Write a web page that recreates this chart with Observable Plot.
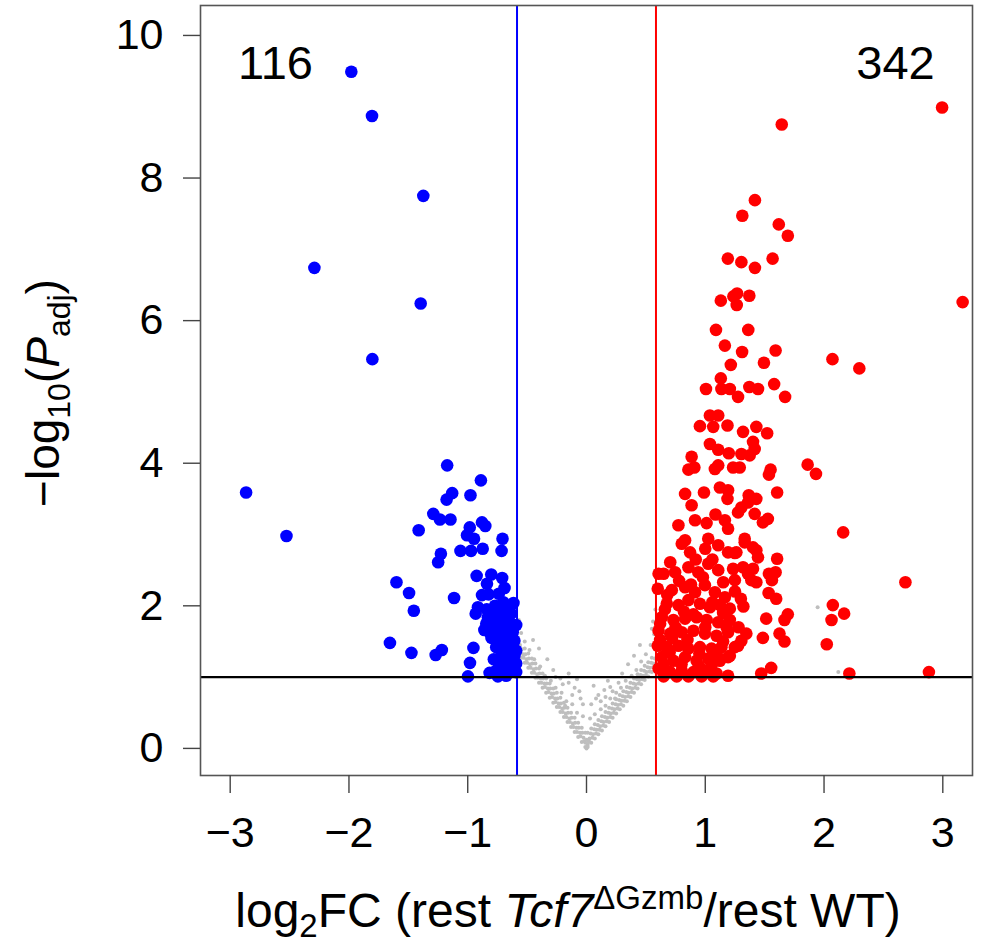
<!DOCTYPE html>
<html><head><meta charset="utf-8">
<script src="https://cdn.jsdelivr.net/npm/d3@7"></script>
<script src="https://cdn.jsdelivr.net/npm/@observablehq/plot@0.6"></script>
<style>html,body{margin:0;padding:0;background:#fff}</style>
</head><body><div id="chart"></div>
<script>
const xTicks = [-3, -2, -1, 0, 1, 2, 3];
const xTickLabels = ["−3", "−2", "−1", "0", "1", "2", "3"];
const yTicks = [0, 2, 4, 6, 8, 10];
const yTickLabels = ["0", "2", "4", "6", "8", "10"];
const fcCutoff = 0.585;
const padjCutoff = 1;
const countDown = "116";
const countUp = "342";

const bluePoints = [
[-1.98,9.49],[-1.806,8.87],[-1.374,7.75],[-2.291,6.74],[-1.396,6.24],[-1.803,5.46],[-2.866,3.59],[-2.526,2.98],
[-1.173,3.97],[-0.889,3.76],[-1.131,3.58],[-1.178,3.49],[-0.977,3.55],[-1.290,3.29],[-1.234,3.21],[-1.145,3.21],
[-1.413,3.06],[-0.983,3.10],[-0.880,3.17],[-0.852,3.12],[-1.006,2.99],[-0.947,2.94],[-0.707,2.94],[-1.061,2.77],
[-0.972,2.77],[-0.874,2.80],[-0.715,2.77],[-1.226,2.73],[-1.249,2.61],[-1.600,2.33],[-1.494,2.18],[-1.115,2.11],
[-1.454,1.93],[-0.925,2.42],[-0.802,2.44],[-0.710,2.39],[-0.838,2.31],[-0.824,2.16],[-0.738,2.17],[-0.615,2.04],
[-0.914,1.98],[-0.933,1.89],
[-0.830,1.84],[-0.788,1.89],[-0.732,1.91],[-0.676,1.87],[-0.634,1.89],[-0.844,1.75],[-0.774,1.77],[-0.705,1.75],
[-0.649,1.77],[-0.592,1.73],[-0.816,1.63],[-0.746,1.65],[-0.690,1.63],[-0.621,1.63],[-0.774,1.54],[-0.718,1.51],
[-0.663,1.54],[-0.607,1.51],[-0.760,1.42],[-0.705,1.40],[-0.649,1.42],[-0.592,1.37],[-0.718,1.30],[-0.663,1.28],
[-0.607,1.30],[-0.690,1.19],[-0.634,1.16],[-0.592,1.19],[-0.718,1.09],[-0.649,1.07],[-0.592,1.07],[-0.746,1.01],
[-0.676,1.02],
[-1.655,1.48],[-1.474,1.34],[-1.270,1.31],[-1.218,1.38],[-0.952,1.41],[-0.981,1.20],[-0.998,1.01],[-0.816,1.06],
[-0.760,1.09],
[-0.78,1.25],[-0.84,1.95],[-0.70,2.05],[-0.62,1.45],[-0.66,1.98],[-0.88,2.15],[-0.74,1.20],[-0.80,1.55],
[-0.86,1.66],[-0.69,2.25],[-0.77,2.00],[-0.72,1.82]
];

const redPoints = [
[1.644,8.75],[2.994,8.99],[1.418,7.69],[1.312,7.47],[1.619,7.35],[1.695,7.19],[1.190,6.87],[1.304,6.82],
[1.418,6.74],[1.567,6.87],[1.131,6.28],[1.237,6.34],[1.268,6.38],[1.265,6.22],[1.371,6.35],[3.167,6.26],
[1.090,5.87],[1.362,5.87],[1.165,5.65],[1.310,5.56],[1.592,5.58],[2.071,5.46],[2.297,5.33],[1.215,5.38],
[1.494,5.41],[1.131,5.19],[1.006,5.04],[1.136,5.04],[1.207,5.04],[1.371,5.07],[1.444,5.04],[1.580,5.11],
[1.276,4.93],[1.672,4.93],
[1.039,4.67],[1.109,4.67],[0.955,4.52],[1.067,4.51],[1.187,4.53],[1.318,4.44],[1.430,4.51],[1.521,4.42],
[1.039,4.27],[1.109,4.19],[1.198,4.14],[1.402,4.30],[1.416,4.20],[1.304,4.13],[1.374,4.11],[0.885,4.09],
[0.858,3.91],[0.908,3.94],[1.081,3.92],[1.109,3.97],[1.234,3.94],[1.290,3.94],[1.550,3.91],[1.536,3.84],
[1.862,3.98],[1.932,3.85],[0.830,3.57],[0.989,3.59],[1.123,3.66],[1.192,3.62],[1.187,3.50],[1.366,3.55],
[1.430,3.50],[1.605,3.59],[0.885,3.41],[1.304,3.38],[1.360,3.45],[1.416,3.29],[0.774,3.13],[0.914,3.20],
[1.011,3.16],[1.086,3.28],[1.165,3.20],[1.192,3.08],[1.276,3.31],[1.485,3.17],[1.527,3.22],[1.025,2.94],
[1.332,2.94],[0.830,2.92],
[2.161,3.03],[2.685,2.33],[2.074,2.01],[2.169,1.89],[2.063,1.80],[2.023,1.46],[2.213,1.05],[2.883,1.07],
[1.555,1.13],[1.471,1.05],[1.605,2.66],[1.592,2.47],[1.536,2.45],[1.561,2.36],[1.533,2.18],[1.597,2.10],
[1.695,1.88],[1.667,1.80],[1.513,1.82],[1.321,1.99],[1.625,1.61],[1.667,1.50],[1.485,1.55],[1.346,1.61],
[1.304,1.51],[1.249,1.42],[1.207,1.30],[1.360,2.45],[1.388,2.36],[1.430,2.78],[1.444,2.68],[1.402,2.82],
[1.332,2.89],[1.249,2.74],[1.234,2.52],[1.249,2.36],[1.318,2.54],
[0.802,2.87],[0.872,2.75],[1.109,2.85],[1.192,2.75],[1.262,2.75],[0.705,2.61],[0.649,2.45],[0.600,2.24],
[0.746,2.47],[0.858,2.54],[0.941,2.47],[1.025,2.59],[1.109,2.50],[1.151,2.33],[1.402,2.52],[1.430,2.33],
[0.718,2.22],[0.830,2.26],[0.914,2.19],[0.997,2.29],[1.081,2.19],[1.165,2.12],[0.676,2.03],[0.774,2.01],
[0.858,2.08],[0.955,2.03],[1.039,1.98],[1.123,2.01],[1.207,1.96],[0.634,1.84],[0.732,1.80],[0.830,1.82],
[0.927,1.84],[1.011,1.80],[1.109,1.77],[1.207,1.80],[0.607,1.65],[0.705,1.61],[0.802,1.63],[0.900,1.65],
[0.997,1.61],[1.095,1.58],[1.192,1.63],[0.600,1.44],[0.676,1.42],[0.774,1.44],[0.858,1.40],[0.955,1.42],
[1.053,1.40],[1.136,1.42],[1.276,1.44],[0.634,1.28],[0.732,1.23],[0.830,1.28],[0.927,1.23],[1.025,1.26],
[1.123,1.23],[1.192,1.28],[0.607,1.12],[0.705,1.07],[0.802,1.09],[0.900,1.07],[0.997,1.09],[1.095,1.05],
[1.192,1.02],[0.649,1.01],[0.760,1.01],[0.858,1.01],[0.969,1.01],[1.067,1.01],[0.607,2.45],
[0.66,1.95],[0.75,1.70],[0.85,1.52],[0.95,1.33],[1.05,1.15],[0.62,1.52],[0.70,1.35],[0.80,1.18],
[0.90,1.88],[1.00,1.70],[1.15,1.50],[0.68,2.15],[0.78,2.35],[0.88,2.30],[0.98,2.40],[1.06,2.05],
[1.15,1.90],[1.25,2.20],[0.92,2.65],[1.00,2.80],[1.06,2.65],[0.65,1.18],[0.72,1.55],[0.82,1.92],
[0.62,1.75],[0.95,1.15],[1.10,1.30],[1.18,1.70],[1.28,1.70],[1.30,2.10]
];

const greyLeft = [
[-0.01,0.02],[-0.04,0.09],[-0.07,0.16],[-0.10,0.23],[-0.13,0.30],[-0.16,0.37],[-0.19,0.44],[-0.22,0.51],
[-0.25,0.58],[-0.28,0.64],[-0.31,0.71],[-0.34,0.78],[-0.37,0.85],[-0.40,0.92],[-0.43,0.99],[-0.46,1.06],
[-0.49,1.13],[-0.52,1.20],[-0.55,1.27],
[-0.02,0.10],[-0.05,0.17],[-0.08,0.23],[-0.11,0.30],[-0.14,0.37],[-0.17,0.44],[-0.20,0.51],[-0.23,0.58],
[-0.26,0.65],[-0.29,0.72],[-0.32,0.79],[-0.35,0.86],[-0.38,0.92],[-0.41,0.99],[-0.44,1.06],[-0.47,1.13],
[-0.50,1.20],[-0.53,1.27],
[-0.025,0.15],[-0.055,0.22],[-0.085,0.29],[-0.115,0.35],[-0.145,0.42],[-0.175,0.49],[-0.205,0.56],[-0.235,0.63],
[-0.265,0.70],[-0.295,0.77],[-0.325,0.84],[-0.355,0.91],[-0.385,0.98],[-0.415,1.04],[-0.445,1.11],[-0.475,1.18],
[-0.505,1.25],[-0.535,1.32],
[-0.035,0.22],[-0.065,0.29],[-0.095,0.36],[-0.125,0.43],[-0.155,0.50],[-0.185,0.57],[-0.215,0.63],[-0.245,0.70],
[-0.275,0.77],[-0.305,0.84],[-0.335,0.91],[-0.365,0.98],[-0.395,1.05],[-0.425,1.12],[-0.455,1.19],[-0.485,1.26],
[-0.515,1.32],[-0.545,1.39],
[-0.01,0.22],[-0.04,0.29],[-0.07,0.36],[-0.10,0.43],[-0.13,0.50],[-0.16,0.57],[-0.19,0.64],[-0.22,0.71],
[-0.25,0.78],[-0.28,0.84],[-0.31,0.91],[-0.34,0.98],[-0.37,1.05],[-0.40,1.12],[-0.43,1.19],[-0.46,1.26],
[-0.49,1.33],[-0.52,1.40],
[-0.03,0.45],[-0.08,0.50],[-0.12,0.62],[-0.17,0.66],[-0.21,0.78],[-0.26,0.85],[-0.30,0.95],[-0.35,1.02],
[-0.39,1.15],[-0.44,1.25],[-0.48,1.38],[-0.52,1.50],[-0.55,1.62],[-0.57,1.80],[-0.56,1.45],
[-0.05,0.70],[-0.10,0.85],[-0.15,0.92],[-0.22,0.98],[-0.08,0.97],[-0.18,0.60],[-0.28,1.10],[-0.33,1.25],
[-0.40,1.40],[-0.45,1.52],[-0.03,0.62],[-0.12,0.75],[-0.20,0.90],[-0.26,1.00],[-0.06,0.80],[-0.15,1.05],
[0.00,0.00],[0.01,0.05],[-0.01,0.08],[0.00,0.12],[0.02,0.10]
];

const greyRight = [
[0.01,0.02],[0.04,0.08],[0.07,0.14],[0.10,0.20],[0.13,0.25],[0.16,0.31],[0.19,0.37],[0.22,0.43],
[0.25,0.49],[0.28,0.55],[0.31,0.60],[0.34,0.66],[0.37,0.72],[0.40,0.78],[0.43,0.84],[0.46,0.90],
[0.49,0.96],[0.52,1.01],[0.55,1.07],[0.58,1.13],
[0.02,0.09],[0.05,0.15],[0.08,0.21],[0.11,0.26],[0.14,0.32],[0.17,0.38],[0.20,0.44],[0.23,0.50],
[0.26,0.56],[0.29,0.62],[0.32,0.67],[0.35,0.73],[0.38,0.79],[0.41,0.85],[0.44,0.91],[0.47,0.97],
[0.50,1.03],[0.53,1.08],[0.56,1.14],
[0.025,0.14],[0.055,0.20],[0.085,0.26],[0.115,0.31],[0.145,0.37],[0.175,0.43],[0.205,0.49],[0.235,0.55],
[0.265,0.61],[0.295,0.67],[0.325,0.72],[0.355,0.78],[0.385,0.84],[0.415,0.90],[0.445,0.96],[0.475,1.02],
[0.505,1.07],[0.535,1.13],[0.565,1.19],
[0.035,0.21],[0.065,0.27],[0.095,0.33],[0.125,0.38],[0.155,0.44],[0.185,0.50],[0.215,0.56],[0.245,0.62],
[0.275,0.68],[0.305,0.73],[0.335,0.79],[0.365,0.85],[0.395,0.91],[0.425,0.97],[0.455,1.03],[0.485,1.09],
[0.515,1.14],[0.545,1.20],[0.575,1.26],
[0.01,0.22],[0.04,0.28],[0.07,0.34],[0.10,0.40],[0.13,0.45],[0.16,0.51],[0.19,0.57],[0.22,0.63],
[0.25,0.69],[0.28,0.75],[0.31,0.80],[0.34,0.86],[0.37,0.92],[0.40,0.98],[0.43,1.04],[0.46,1.10],
[0.49,1.16],[0.52,1.21],[0.55,1.27],
[0.03,0.42],[0.07,0.48],[0.12,0.55],[0.16,0.60],[0.20,0.70],[0.25,0.78],[0.29,0.85],[0.33,0.95],
[0.38,1.02],[0.42,1.10],[0.46,1.22],[0.50,1.32],[0.54,1.45],[0.57,1.60],[0.56,1.78],[0.58,1.95],[0.55,1.68],
[0.10,0.75],[0.15,0.82],[0.20,0.86],[0.24,0.70],[0.06,0.88],[0.30,1.05],[0.35,1.18],[0.40,1.30],
[0.45,1.45],[0.12,0.66],[0.04,0.62],[0.08,0.70],[0.18,0.95],[0.22,0.80],[0.27,0.92],[0.16,0.72],
[1.946,1.98],[2.12,1.07]
];

const toRows = (pts, group) => pts.map(([x, y]) => ({x, y, group}));
const grey = toRows([...greyLeft, ...greyRight], "ns");
const down = toRows(bluePoints, "down");
const up = toRows(redPoints, "up");

const FONT = "'Liberation Sans', Arial, Helvetica, sans-serif";

const plot = Plot.plot({
  width: 982,
  height: 945,
  marginLeft: 200,
  marginRight: 10,
  marginTop: 5,
  marginBottom: 170,
  style: {fontFamily: FONT, fontSize: "43px", background: "#fff", color: "#000", overflow: "visible"},
  x: {domain: [-3.25, 3.25]},
  y: {domain: [-0.38, 10.42]},
  marks: [
    Plot.dot(grey, {x: "x", y: "y", r: 2, fill: "#bebebe"}),
    Plot.dot(down, {x: "x", y: "y", r: 6.3, fill: "#0000ff"}),
    Plot.dot(up, {x: "x", y: "y", r: 6.3, fill: "#ff0000"}),
    Plot.ruleX([-fcCutoff], {stroke: "#0000ff", strokeWidth: 2}),
    Plot.ruleX([fcCutoff], {stroke: "#ff0000", strokeWidth: 2}),
    Plot.ruleY([padjCutoff], {stroke: "#000", strokeWidth: 2.2}),
    Plot.frame({stroke: "#555", strokeWidth: 1.6}),
    Plot.axisX(xTicks, {tickFormat: d => xTickLabels[xTicks.indexOf(d)], tickSize: 18, tickPadding: 23, label: null, stroke: "#444", strokeWidth: 1.4, fontSize: 43}),
    Plot.axisY(yTicks, {tickFormat: d => yTickLabels[yTicks.indexOf(d)], tickSize: 17, tickPadding: 20, label: null, stroke: "#444", strokeWidth: 1.4, fontSize: 43}),
    Plot.text([countDown], {frameAnchor: "top-left", dx: 75, dy: 40, textAnchor: "middle", lineAnchor: "top", fontSize: 47}),
    Plot.text([countUp], {frameAnchor: "top-right", dx: -77, dy: 40, textAnchor: "middle", lineAnchor: "top", fontSize: 47})
  ]
});

document.getElementById("chart").appendChild(plot);

const svg = d3.select(plot);
// x-axis title
const xt = svg.append("text")
  .attr("x", 568).attr("y", 927)
  .attr("text-anchor", "middle")
  .style("font-family", FONT).style("font-size", "48px").style("white-space", "pre").attr("fill", "#000");
xt.append("tspan").text("log");
xt.append("tspan").attr("dy", 10).style("font-size", "33px").text("2");
xt.append("tspan").attr("dy", -10).text("FC (rest ");
xt.append("tspan").style("font-style", "italic").text("Tcf7");
xt.append("tspan").attr("dy", -18).style("font-size", "33px").text("ΔGzmb");
xt.append("tspan").attr("dy", 18).text("/rest WT)");

// y-axis title
const yt = svg.append("text")
  .attr("transform", "translate(59,393) rotate(-90)")
  .attr("text-anchor", "middle")
  .style("font-family", FONT).style("font-size", "46px").style("white-space", "pre").attr("fill", "#000");
yt.append("tspan").text("−log");
yt.append("tspan").attr("dy", 11).style("font-size", "32px").text("10");
yt.append("tspan").attr("dy", -11).text("(");
yt.append("tspan").style("font-style", "italic").text("P");
yt.append("tspan").attr("dy", 11).style("font-size", "32px").text("adj");
yt.append("tspan").attr("dy", -11).text(")");
</script>
</body></html>
